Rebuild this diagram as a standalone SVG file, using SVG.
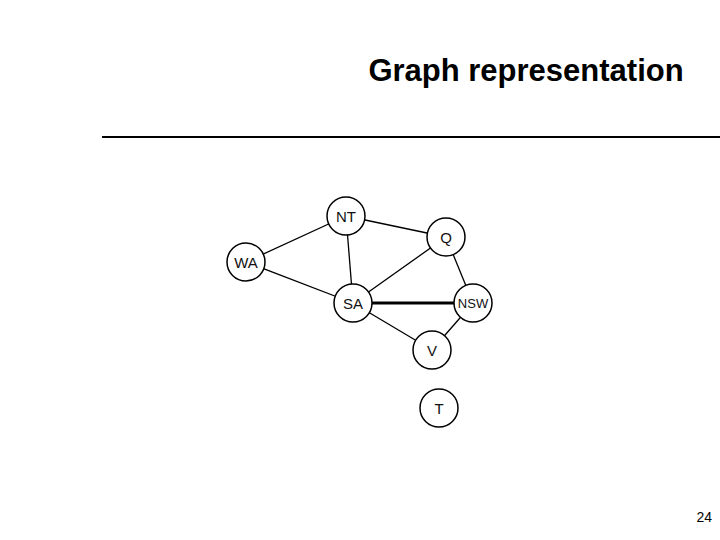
<svg xmlns="http://www.w3.org/2000/svg" width="720" height="540" viewBox="0 0 720 540">
<style>
.n circle{fill:#fff;stroke:#000;stroke-width:1.5}
.n text{font-family:"Liberation Sans",Arial,sans-serif;font-size:15px;text-anchor:middle;dominant-baseline:central;fill:#111}
#edges line{stroke:#000;stroke-width:1.3}
</style>
<rect width="720" height="540" fill="#fff"/>
<text x="526" y="81" font-family="Liberation Sans,Arial,sans-serif" font-size="31" font-weight="bold" text-anchor="middle">Graph representation</text>
<line x1="102" y1="137" x2="720" y2="137" stroke="#000" stroke-width="2"/>
<g id="edges">
<line x1="246" y1="262" x2="346" y2="216"/>
<line x1="246" y1="262" x2="353" y2="303"/>
<line x1="346" y1="216" x2="446" y2="237"/>
<line x1="346" y1="216" x2="353" y2="303"/>
<line x1="353" y1="303" x2="446" y2="237"/>
<line x1="353" y1="303" x2="473" y2="303" style="stroke-width:3"/>
<line x1="353" y1="303" x2="432" y2="350"/>
<line x1="446" y1="237" x2="473" y2="303"/>
<line x1="473" y1="303" x2="432" y2="350"/>
</g>
<g id="WA" class="n"><circle cx="246" cy="262" r="19"/><text x="246" y="262">WA</text></g>
<g id="NT" class="n"><circle cx="346" cy="216" r="19"/><text x="346" y="216">NT</text></g>
<g id="Q" class="n"><circle cx="446" cy="237" r="19"/><text x="446" y="237">Q</text></g>
<g id="SA" class="n"><circle cx="353" cy="303" r="19"/><text x="353" y="303">SA</text></g>
<g id="NSW" class="n"><circle cx="473" cy="303" r="19"/><text x="473" y="303" style="font-size:13px">NSW</text></g>
<g id="V" class="n"><circle cx="432" cy="350" r="19"/><text x="432" y="350">V</text></g>
<g id="T" class="n"><circle cx="439" cy="408" r="19"/><text x="439" y="408">T</text></g>
<text x="712" y="522" font-family="Liberation Sans,Arial,sans-serif" font-size="14" text-anchor="end">24</text>
</svg>
